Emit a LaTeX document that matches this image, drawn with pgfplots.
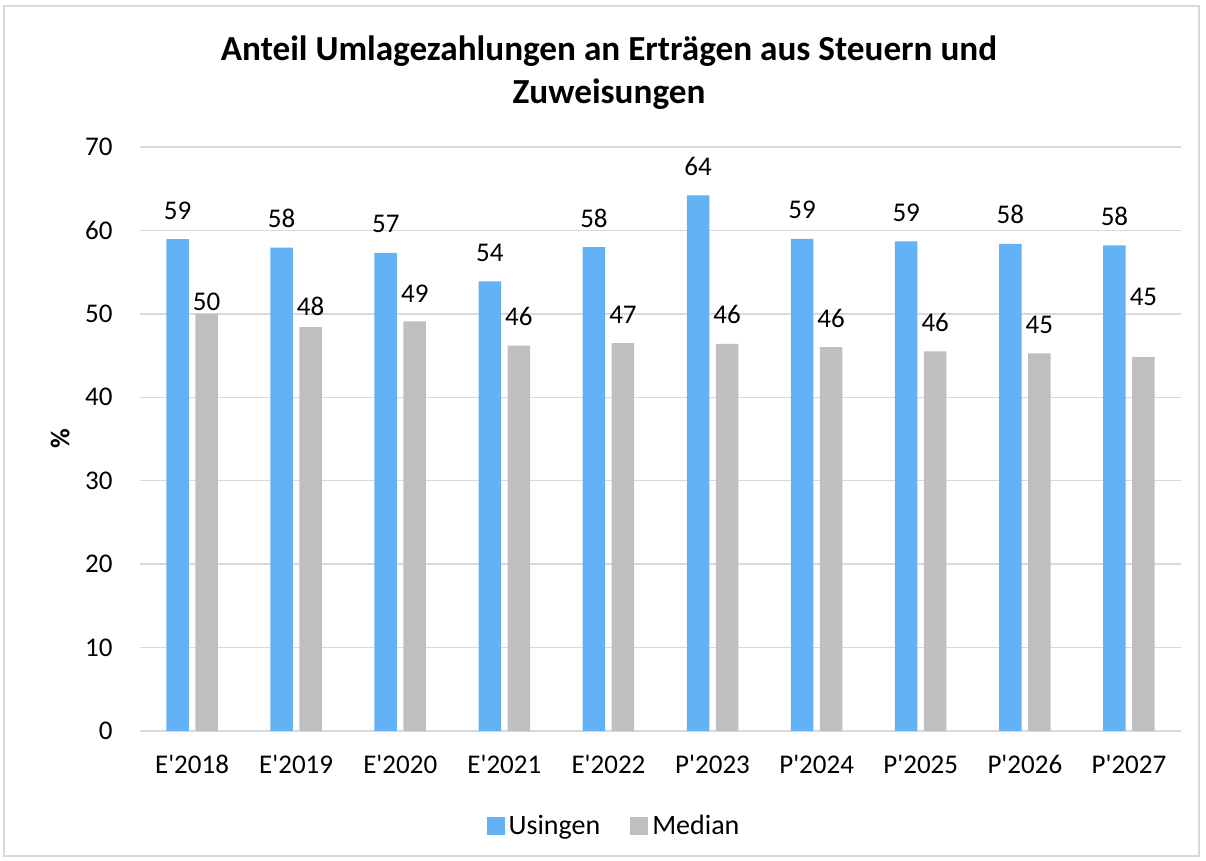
\documentclass[border=0pt]{standalone}
\usepackage{pgfplots}
\pgfplotsset{compat=1.18}
\usepackage{pgfplotstable}
\usepackage{fontspec}
\setmainfont{Carlito}
\definecolor{cblue}{RGB}{99,178,245}
\definecolor{cgray}{RGB}{191,191,191}
\definecolor{cgrid}{RGB}{217,217,217}
\pgfplotstableread{
x u m ul ml udy mdy
0 58.96 50.0 59 50 10 1.85
1 57.95 48.4 58 48 10 5.8
2 57.3 49.1 57 49 10 9.5
3 53.9 46.2 54 46 10 10
4 58.0 46.5 58 47 10 10
5 64.2 46.4 64 46 10 10
6 59.0 46.0 59 46 10 10
7 58.7 45.5 59 46 10 10
8 58.4 45.25 58 45 10 10
9 58.2 44.8 58 45 10 26
}\datatable
\begin{document}
\begin{tikzpicture}[x=1pt,y=1pt]
\path (0,0) rectangle (603,430.5);
\draw[cgrid, line width=0.6pt] (2,2.5) rectangle (599.5,427.5);
\node[font=\fontsize{17.6}{21.5}\selectfont\bfseries, align=center] at (304.5,394) {Anteil Umlagezahlungen an Erträgen aus Steuern und\\Zuweisungen};
\begin{axis}[
  at={(70pt,65pt)}, anchor=south west,
  scale only axis, width=520.5pt, height=292pt,
  xmin=-0.5, xmax=9.5, ymin=0, ymax=70,
  ytick={0,10,...,70},
  xtick={0,...,9},
  xticklabels={E\textquotesingle2018,E\textquotesingle2019,E\textquotesingle2020,E\textquotesingle2021,E\textquotesingle2022,P\textquotesingle2023,P\textquotesingle2024,P\textquotesingle2025,P\textquotesingle2026,P\textquotesingle2027},
  major tick length=0pt,
  ymajorgrids, grid style={cgrid, line width=0.7pt},
  axis lines*=left,
  y axis line style={draw=none},
  x axis line style={cgrid, line width=0.7pt, -},
  tick label style={font=\fontsize{13.5}{16}\selectfont},
  /pgf/number format/assume math mode=true,
  yticklabel style={inner sep=0pt, xshift=-13.5pt},
  xticklabel style={inner sep=0pt, yshift=-12pt},
  ylabel={\%},
  ylabel style={font=\fontsize{13.5}{16}\selectfont\bfseries, at={(axis description cs:-0.0768,0.5)}, anchor=center, inner sep=0pt},
  ybar, bar width=11.25pt,
  legend style={draw=none, at={(0.4563,-0.1627)}, anchor=center, legend columns=2,
    font=\fontsize{14}{16}\selectfont,
    /tikz/every even column/.append style={column sep=13pt}},
  legend cell align=left,
  legend image code/.code={\fill[#1] (0pt,-4.5pt) rectangle (9pt,4.5pt);},
  nodes near coords,
  point meta=explicit symbolic,
  every node near coord/.append style={font=\fontsize{13.5}{16}\selectfont, anchor=base, inner sep=0pt, text=black},
]
\addplot[fill=cblue, draw=none, bar shift=-7.25pt,
  visualization depends on={\thisrow{udy} \as \dy},
  nodes near coords style={yshift=\dy pt}]
  table[x=x, y=u, meta=ul] {\datatable};
\addlegendentry{Usingen}
\addplot[fill=cgray, draw=none, bar shift=7.25pt,
  visualization depends on={\thisrow{mdy} \as \dy},
  nodes near coords style={yshift=\dy pt}]
  table[x=x, y=m, meta=ml] {\datatable};
\addlegendentry{Median}
\end{axis}
\end{tikzpicture}
\end{document}
